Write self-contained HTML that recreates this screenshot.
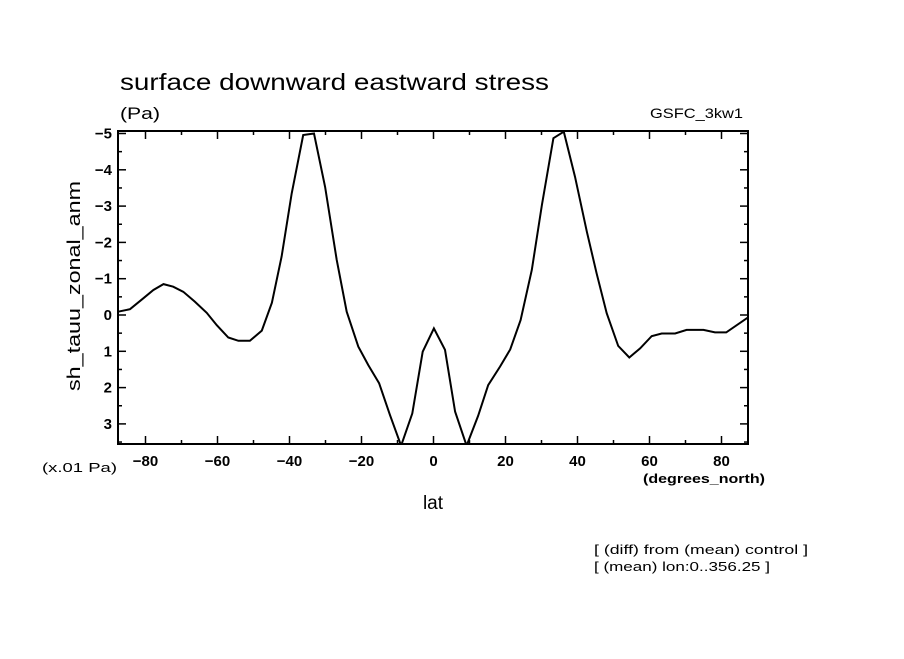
<!DOCTYPE html>
<html><head><meta charset="utf-8"><style>
body{margin:0;background:#fff;}
svg text{font-family:"Liberation Sans",sans-serif;fill:#000;}
</style></head><body>
<svg id="chart" width="904" height="654" xmlns="http://www.w3.org/2000/svg">
<rect width="904" height="654" fill="#fff"/>
<text x="120" y="90" font-size="23" textLength="429" lengthAdjust="spacingAndGlyphs">surface downward eastward stress</text>
<text x="120" y="119" font-size="17" textLength="40" lengthAdjust="spacingAndGlyphs">(Pa)</text>
<text x="650" y="118" font-size="14" textLength="93" lengthAdjust="spacingAndGlyphs">GSFC_3kw1</text>
<text x="0" y="0" font-size="18" textLength="210" lengthAdjust="spacingAndGlyphs" transform="translate(80,391) rotate(-90)">sh_tauu_zonal_anm</text>
<text x="42" y="472" font-size="13" textLength="75" lengthAdjust="spacingAndGlyphs">(x.01 Pa)</text>
<text x="643" y="483" font-size="13" font-weight="bold" textLength="122" lengthAdjust="spacingAndGlyphs">(degrees_north)</text>
<text x="433" y="509" font-size="19" text-anchor="middle">lat</text>
<text x="594" y="554" font-size="13" textLength="214" lengthAdjust="spacingAndGlyphs">[ (diff) from (mean) control ]</text>
<text x="594" y="571" font-size="13" textLength="176" lengthAdjust="spacingAndGlyphs">[ (mean) lon:0..356.25 ]</text>
<g id="axes"></g>
<g id="series"></g>
</svg>
<script>
const lats = [-87.6,-84.3,-80.6,-77.8,-75,-72.3,-69.5,-66.3,-63,-60.2,-57,-54.2,-51,-47.7,-44.9,-42.2,-39.4,-36.2,-33.2,-30.1,-26.9,-24.1,-20.9,-18.1,-15.1,-12.1,-9.0,-5.9,-3.0,0.1,3.2,6.0,9.2,12.4,15.2,18.5,21.3,24.2,27.3,30.1,33.3,36.2,39.3,42.6,45.3,48.1,51.3,54.4,57.4,60.6,63.4,67.1,70.3,75,78.2,81.3,87.6];
const values = [-0.09,-0.16,-0.46,-0.69,-0.85,-0.78,-0.64,-0.37,-0.06,0.28,0.62,0.71,0.71,0.43,-0.34,-1.61,-3.35,-4.96,-5.0,-3.53,-1.52,-0.09,0.87,1.38,1.88,2.75,3.6,2.71,1.01,0.37,0.96,2.66,3.6,2.78,1.93,1.42,0.95,0.14,-1.24,-3.03,-4.87,-5.05,-3.81,-2.29,-1.15,-0.05,0.85,1.17,0.92,0.58,0.51,0.51,0.41,0.41,0.48,0.48,0.05];
const xTicks = [-80,-60,-40,-20,0,20,40,60,80];
const yTicks = [-5,-4,-3,-2,-1,0,1,2,3];

const L=118,R=748,T=131,B=444;
const xS = v => 433.5 + v*3.6;
const yS = v => 315 + v*36.3;
const NS="http://www.w3.org/2000/svg";
const axes=document.getElementById('axes');
function mk(tag,attrs,parent){const e=document.createElementNS(NS,tag);for(const k in attrs)e.setAttribute(k,attrs[k]);parent.appendChild(e);return e;}
const frame=mk('rect',{x:L,y:T,width:R-L,height:B-T,fill:'none',stroke:'#000','stroke-width':2},axes);


for(let v=-80;v<=80;v+=10){const x=xS(v);const len=(v%20===0)?8:4;
 const t1=mk('line',{x1:x,y1:B,x2:x,y2:B-len,stroke:'#000','stroke-width':1.5},axes);
 
 
 const t2=mk('line',{x1:x,y1:T,x2:x,y2:T+len,stroke:'#000','stroke-width':1.5},axes);
 
 }
for(let v=-5;v<=3.5;v+=0.5){const y=yS(v);const len=(Number.isInteger(v))?8:4;
 const t1=mk('line',{x1:L,y1:y,x2:L+len,y2:y,stroke:'#000','stroke-width':1.5},axes);
 
 
 const t2=mk('line',{x1:R,y1:y,x2:R-len,y2:y,stroke:'#000','stroke-width':1.5},axes);
 
 }
xTicks.forEach(v=>{const t=mk('text',{x:xS(v),y:466,'font-size':15,'font-weight':'bold','text-anchor':'middle'},axes);
 t.textContent=v<0?'\u2212'+(-v):String(v);
 
 });
yTicks.forEach(v=>{const t=mk('text',{x:112,y:yS(v)+5,'font-size':15,'font-weight':'bold','text-anchor':'end'},axes);
 t.textContent=v<0?'\u2212'+(-v):String(v);
 
 });
const clip=mk('clipPath',{id:'pc'},document.getElementById('chart'));
mk('rect',{x:L,y:T,width:R-L,height:B-T},clip);
const pts=lats.map((la,i)=>xS(la).toFixed(1)+','+yS(values[i]).toFixed(1)).join(' ');
const line=mk('polyline',{points:pts,fill:'none',stroke:'#000','stroke-width':2,'clip-path':'url(#pc)'},document.getElementById('series'));


</script>
</body></html>
